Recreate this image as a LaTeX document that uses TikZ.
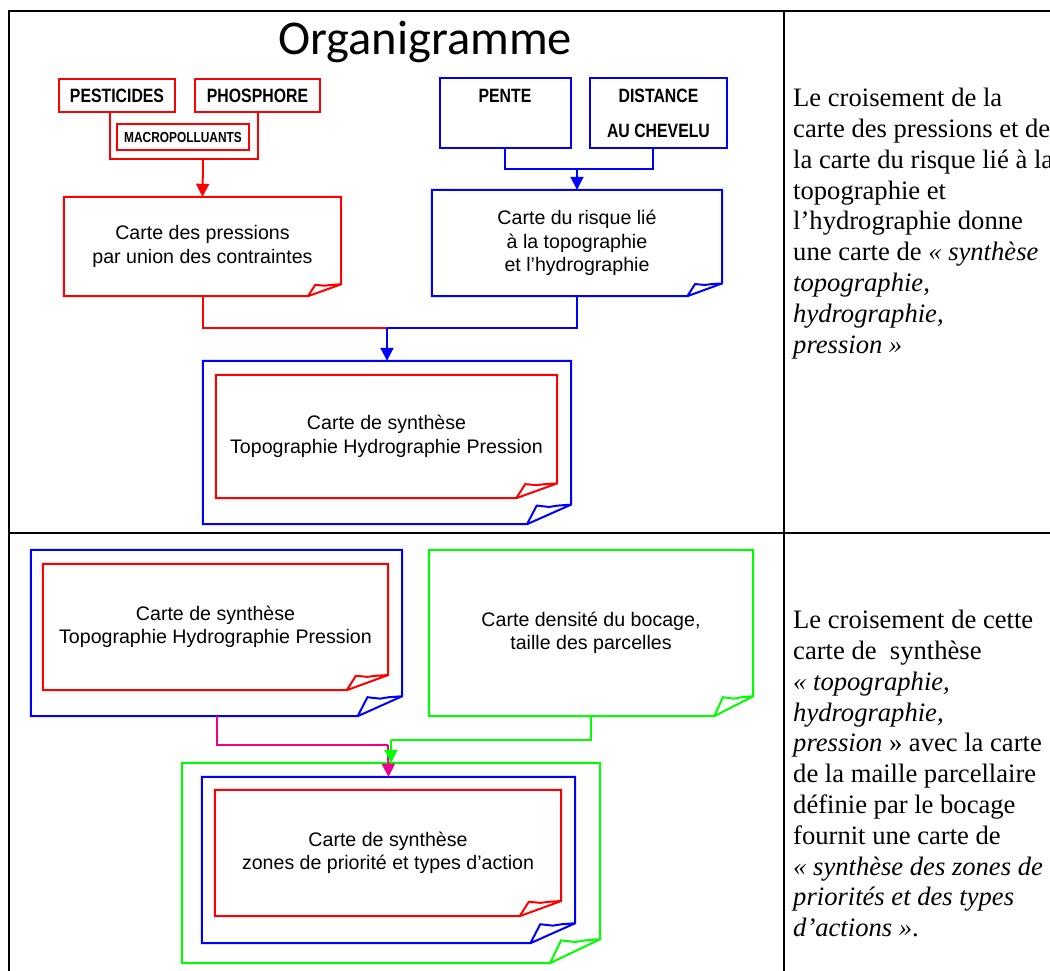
\documentclass[tikz,border=0pt]{standalone}
\usepackage{fontspec}
\setmainfont{Liberation Serif}
\newfontfamily\boxfont{Liberation Sans}
\newfontfamily\capfont[FakeStretch=0.82]{Liberation Sans}
\newfontfamily\titlefont{Carlito}
\usetikzlibrary{arrows.meta,calc}

% outline of a sheet with a curled bottom-right corner
\newcommand\docfold[2]{%
  \draw[#2,line width=2pt] let \p1=(#1.south west), \p2=(#1.north east),
    \n1={0.12*(\x2-\x1)}, \n2={0.12*(\y2-\y1)} in
    (\x1,\y2) -- (\x2,\y2) -- (\x2,{\y1+\n2*1pt}) -- ({\x2-\n1*1pt},\y1) -- (\x1,\y1) -- cycle
    ({\x2-\n1*1pt},\y1) -- ({\x2-0.78*\n1*1pt},{\y1+0.95*\n2*1pt}) -- ({\x2-0.5*\n1*1pt},{\y1+0.88*\n2*1pt})
    -- ({\x2-0.3*\n1*1pt},{\y1+0.95*\n2*1pt}) -- (\x2,{\y1+\n2*1pt});}

\begin{document}
\begin{tikzpicture}[x=1pt,y=-1pt,>={Triangle[width=13pt,length=13pt]},
capbox/.style={draw=#1,line width=2pt,inner sep=0pt,align=center,font=\capfont\bfseries\fontsize{19.3}{23}\selectfont},
docbox/.style={inner sep=0pt,align=center,font=\boxfont\fontsize{19.6}{23.5}\selectfont},
ln/.style={draw=#1,line width=2pt},
tbl/.style={line width=2.2pt,black},
note/.style={anchor=north west,inner sep=0pt,align=left,font=\fontsize{26.6}{30.8}\selectfont}]
\useasboundingbox (0,0) rectangle (1050,971);

% table frame
\draw[tbl] (9,975) -- (9,11) -- (1052,11);
\draw[tbl] (784,11) -- (784,975);
\draw[tbl] (9,533) -- (1052,533);

% upper part
\node[font=\titlefont\fontsize{48.5}{55}\selectfont] (title) at (425,42) {Organigramme};

\node[capbox=red,minimum width=116pt,minimum height=33pt] (pest) at (117,95.5) {PESTICIDES};
\node[capbox=red,minimum width=125pt,minimum height=33pt] (phos) at (257.5,95.5) {PHOSPHORE};
\node[capbox=red,minimum width=132pt,minimum height=26pt,font=\capfont\bfseries\fontsize{14.5}{17}\selectfont] (macro) at (183,137.5) {MACROPOLLUANTS};
\node[capbox=blue,minimum width=131pt,minimum height=70pt] (pente) at (505,113) {PENTE\\[12pt]\mbox{}};
\node[capbox=blue,minimum width=137pt,minimum height=70pt] (dist) at (658.5,113) {DISTANCE\\[12pt]AU CHEVELU};

\node[docbox,minimum width=277pt,minimum height=99pt] (press) at (202.5,246.5) {Carte des pressions\\par union des contraintes};
\node[docbox,minimum width=290pt,minimum height=106pt] (risk) at (577,243) {Carte du risque lié\\à la topographie\\et l’hydrographie};
\node[docbox,minimum width=368pt,minimum height=163pt] (synA) at (387,442.5) {};
\node[docbox,minimum width=341pt,minimum height=123pt] (synAr) at (386.5,436.5) {Carte de synthèse\\Topographie Hydrographie Pression};
\docfold{press}{red}
\docfold{risk}{blue}
\docfold{synA}{blue}
\docfold{synAr}{red}

\coordinate (pj) at (203,159);
\coordinate (bj) at (577,169);
\coordinate (cj) at (387,328);
\draw[ln=red] ([xshift=-7pt]pest.south) |- (pj) -| (phos.south);
\draw[ln=red,->] (pj) -- (press.north);
\draw[ln=blue] (pente.south) |- (bj) -| ([xshift=-6pt]dist.south);
\draw[ln=blue,->] (bj) -- (risk.north);
\draw[ln=red] (press.south) |- (cj);
\draw[ln=blue] (risk.south) |- (cj);
\draw[ln=blue,->] (cj) -- (synA.north);

\node[note] (txt1) at (793,88) {Le croisement de la\\
carte des pressions et de\\
la carte du risque lié à la\\
topographie et\\
l’hydrographie donne\\
une carte de \textit{« synthèse}\\
\textit{topographie,}\\
\textit{hydrographie,}\\
\textit{pression »}};

% lower part
\node[docbox,minimum width=371pt,minimum height=166pt] (synB) at (216.5,633) {};
\node[docbox,minimum width=345pt,minimum height=126pt] (synBr) at (215.5,627) {Carte de synthèse\\Topographie Hydrographie Pression};
\node[docbox,minimum width=324pt,minimum height=166pt] (boc) at (591,633) {Carte densité du bocage,\\taille des parcelles};
\node[docbox,minimum width=418pt,minimum height=200pt] (synC) at (391,863) {};
\node[docbox,minimum width=373pt,minimum height=166pt] (synCb) at (388.5,860) {};
\node[docbox,minimum width=346pt,minimum height=126pt] (synCr) at (388,853) {Carte de synthèse\\zones de priorité et types d’action};
\docfold{synB}{blue}
\docfold{synBr}{red}
\docfold{boc}{green}
\docfold{synC}{green}
\docfold{synCb}{blue}
\docfold{synCr}{red}

\coordinate (mj) at (388,745);
\coordinate (gj) at (391,740);
\draw[ln=magenta] (synB.south) |- (mj);
\draw[ln=magenta,->] (mj) -- (synCb.north);
\draw[ln=green] (boc.south) |- (gj);
\draw[ln=green,->] (gj) -- (synC.north);

\node[note] (txt2) at (793,610) {Le croisement de cette\\
carte de~ synthèse\\
\textit{« topographie,}\\
\textit{hydrographie,}\\
\textit{pression} » avec la carte\\
de la maille parcellaire\\
définie par le bocage\\
fournit une carte de\\
\textit{« synthèse des zones de}\\
\textit{priorités et des types}\\
\textit{d’actions »}.};
\end{tikzpicture}
\end{document}
